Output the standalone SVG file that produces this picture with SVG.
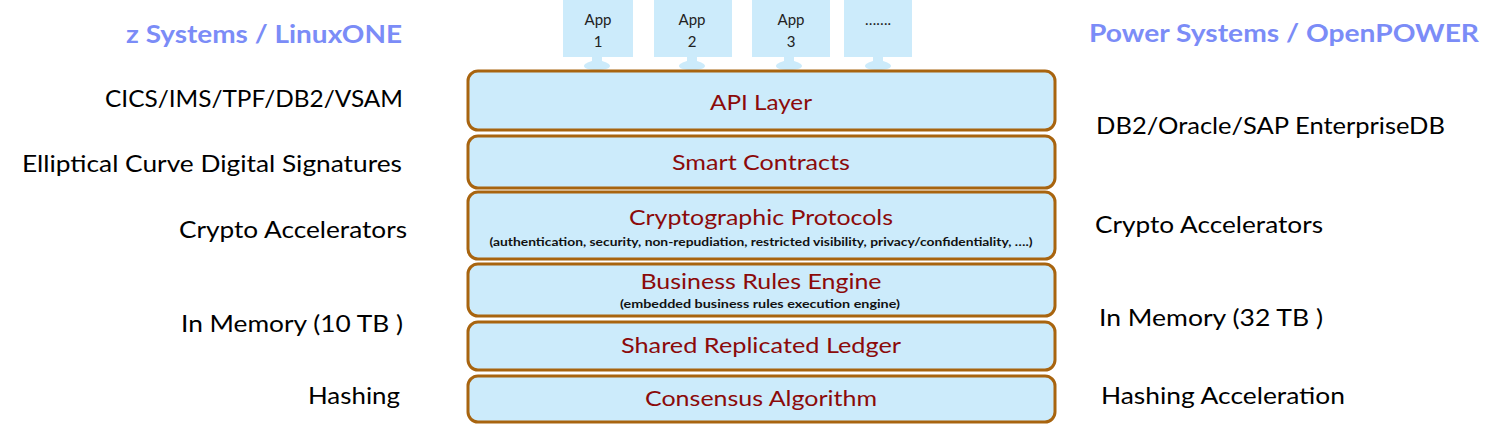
<svg xmlns="http://www.w3.org/2000/svg" width="1500" height="431" viewBox="0 0 1500 431">
<style>
.layer{fill:#CCEBFB;stroke:#A8640F;stroke-width:3}
.app{fill:#CCEBFB}
.lt{font-family:Lato,"Open Sans",sans-serif;font-size:22px;fill:#8B0A0A;text-anchor:middle}
.sub{font-family:Lato,"Open Sans",sans-serif;font-size:11px;font-weight:bold;fill:#111;text-anchor:middle}
.side{font-family:Lato,"Open Sans",sans-serif;font-size:24px;fill:#000}
.hd{font-family:Lato,"Open Sans",sans-serif;font-size:25px;font-weight:bold;fill:#7B8CF7}
.at{font-family:Lato,"Open Sans",sans-serif;font-size:15px;fill:#222;text-anchor:middle}
.con{fill:#CCEBFB}
</style>
<rect width="1500" height="431" fill="#fff"/>
<g id="connectors">
<path class="con" d="M592 57h10v4c4 1 8 3 8 5s-4 4-13 4s-13-2-13-4s4-4 8-5z"/>
<path class="con" d="M687 57h10v4c4 1 8 3 8 5s-4 4-13 4s-13-2-13-4s4-4 8-5z"/>
<path class="con" d="M784 57h10v4c4 1 8 3 8 5s-4 4-13 4s-13-2-13-4s4-4 8-5z"/>
<path class="con" d="M873 57h10v4c4 1 8 3 8 5s-4 4-13 4s-13-2-13-4s4-4 8-5z"/>
</g>
<g id="app1"><rect class="app" x="563" y="0" width="70" height="57"/><text class="at" x="598" y="25">App</text><text class="at" x="598" y="47">1</text></g>
<g id="app2"><rect class="app" x="654" y="0" width="78" height="57"/><text class="at" x="692" y="25">App</text><text class="at" x="692" y="47">2</text></g>
<g id="app3"><rect class="app" x="752" y="0" width="78" height="57"/><text class="at" x="791" y="25">App</text><text class="at" x="791" y="47">3</text></g>
<g id="app4"><rect class="app" x="844" y="0" width="68" height="57"/><text class="at" x="878" y="25">…….</text></g>
<g id="api"><rect class="layer" x="468" y="71" width="587" height="59" rx="10"/><text class="lt" x="761" y="110" textLength="102" lengthAdjust="spacingAndGlyphs">API Layer</text></g>
<g id="smart"><rect class="layer" x="468" y="136" width="587" height="52" rx="10"/><text class="lt" x="761" y="170" textLength="178" lengthAdjust="spacingAndGlyphs">Smart Contracts</text></g>
<g id="crypto"><rect class="layer" x="468" y="192" width="587" height="67" rx="10"/><text class="lt" x="761" y="225" textLength="264" lengthAdjust="spacingAndGlyphs">Cryptographic Protocols</text><text class="sub" x="761" y="246" textLength="543" lengthAdjust="spacingAndGlyphs">(authentication, security, non-repudiation, restricted visibility, privacy/confidentiality, ….)</text></g>
<g id="rules"><rect class="layer" x="468" y="264" width="587" height="52" rx="10"/><text class="lt" x="761" y="289" textLength="241" lengthAdjust="spacingAndGlyphs">Business Rules Engine</text><text class="sub" x="760" y="308" textLength="280" lengthAdjust="spacingAndGlyphs">(embedded  business rules execution engine)</text></g>
<g id="ledger"><rect class="layer" x="468" y="322" width="587" height="48" rx="10"/><text class="lt" x="761" y="353" textLength="280" lengthAdjust="spacingAndGlyphs">Shared Replicated Ledger</text></g>
<g id="consensus"><rect class="layer" x="468" y="376" width="587" height="46" rx="10"/><text class="lt" x="761" y="406" textLength="232" lengthAdjust="spacingAndGlyphs">Consensus Algorithm</text></g>
<g id="left">
<text class="hd" x="126" y="43" textLength="276" lengthAdjust="spacingAndGlyphs">z Systems / LinuxONE</text>
<text class="side" x="105" y="107" textLength="298" lengthAdjust="spacingAndGlyphs">CICS/IMS/TPF/DB2/VSAM</text>
<text class="side" x="22" y="172" textLength="380" lengthAdjust="spacingAndGlyphs">Elliptical Curve Digital Signatures</text>
<text class="side" x="179" y="238" textLength="228" lengthAdjust="spacingAndGlyphs">Crypto Accelerators</text>
<text class="side" x="181" y="332" textLength="222" lengthAdjust="spacingAndGlyphs">In Memory (10 TB )</text>
<text class="side" x="308" y="404" textLength="92" lengthAdjust="spacingAndGlyphs">Hashing</text>
</g>
<g id="right">
<text class="hd" x="1089" y="42" textLength="390" lengthAdjust="spacingAndGlyphs">Power Systems / OpenPOWER</text>
<text class="side" x="1096" y="134" textLength="349" lengthAdjust="spacingAndGlyphs">DB2/Oracle/SAP EnterpriseDB</text>
<text class="side" x="1095" y="233" textLength="228" lengthAdjust="spacingAndGlyphs">Crypto Accelerators</text>
<text class="side" x="1099" y="326" textLength="224" lengthAdjust="spacingAndGlyphs">In Memory (32 TB )</text>
<text class="side" x="1101" y="404" textLength="244" lengthAdjust="spacingAndGlyphs">Hashing Acceleration</text>
</g>
</svg>
